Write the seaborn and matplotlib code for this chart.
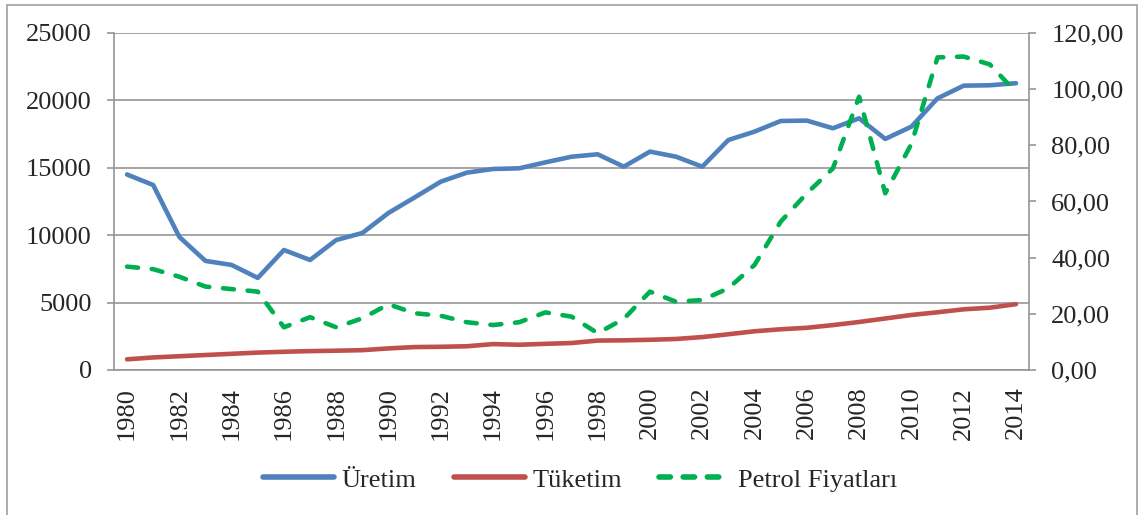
import numpy as np
import pandas as pd
import matplotlib
matplotlib.use("Agg")
import matplotlib.pyplot as plt
import seaborn as sns
from matplotlib.lines import Line2D
from matplotlib.patches import Rectangle

sns.set_style("white")
plt.rcParams['font.family'] = ['Liberation Serif', 'DejaVu Serif']

# data
years = list(range(1980, 2015))
uretim = [14500, 13720, 9870, 8090, 7790, 6830, 8900, 8160, 9640, 10160,
          11650, 12800, 13970, 14640, 14910, 14960, 15400, 15820, 16000, 15080,
          16200, 15820, 15080, 17060, 17680, 18470, 18500, 17930, 18670, 17140,
          18050, 20150, 21090, 21120, 21270]
tuketim = [790, 930, 1020, 1110, 1200, 1290, 1350, 1400, 1430, 1470,
           1600, 1700, 1720, 1760, 1920, 1870, 1940, 2000, 2180, 2200,
           2240, 2300, 2440, 2650, 2870, 3020, 3130, 3330, 3560, 3820,
           4080, 4280, 4500, 4620, 4880]
petrol = [36.8, 35.9, 33.2, 29.7, 28.8, 27.9, 15.2, 18.8, 15.2, 18.4,
          23.4, 20.2, 19.3, 17.0, 16.0, 17.0, 20.5, 19.0, 13.1, 18.2,
          27.9, 24.3, 24.9, 29.1, 37.4, 52.8, 62.9, 71.8, 97.3, 62.9,
          80.5, 111.3, 111.6, 108.8, 98.9]

df = pd.DataFrame({'Yil': years, 'Uretim': uretim, 'Tuketim': tuketim, 'Petrol': petrol})

blue = '#4F81BD'
red = '#C0504D'
green = '#00B050'
grid_c = '#969696'
fs = 19
lw = 3.3

fig = plt.figure(figsize=(11.42, 5.15), dpi=100)
ax = fig.add_axes([0.0998, 0.2816, 0.8013, 0.6544])
ax2 = ax.twinx()

sns.lineplot(data=df, x='Yil', y='Uretim', ax=ax, color=blue, linewidth=lw,
             solid_capstyle='round', solid_joinstyle='round')
sns.lineplot(data=df, x='Yil', y='Tuketim', ax=ax, color=red, linewidth=lw,
             solid_capstyle='round', solid_joinstyle='round')
sns.lineplot(data=df, x='Yil', y='Petrol', ax=ax2, color=green, linewidth=lw,
             linestyle=(0, (2.4, 3.0)), dash_capstyle='round')

ax.set_xlim(1979.5, 2014.5)
ax.set_ylim(0, 25000)
ax2.set_ylim(0, 120)
ax.set_yticks(np.arange(0, 25001, 5000))
ax2.set_yticks(np.arange(0, 121, 20))
ax2.set_yticklabels([f"{v:.2f}".replace('.', ',') for v in np.arange(0, 121, 20)])
ax.set_xticks(years[::2])
ax.set_xticklabels([str(y) for y in years[::2]], rotation=90)
ax.set_xticks(np.arange(1979.5, 2015, 1), minor=True)

ax.set_xlabel('')
ax.set_ylabel('')
ax2.set_ylabel('')
ax.grid(axis='y', color=grid_c, linewidth=1.2)
ax.set_axisbelow(True)

for a in (ax, ax2):
    for s in a.spines.values():
        s.set_visible(False)
ax.spines['left'].set_visible(True)
ax.spines['bottom'].set_visible(True)
ax2.spines['right'].set_visible(True)
for s in (ax.spines['left'], ax.spines['bottom'], ax2.spines['right']):
    s.set_color(grid_c)
    s.set_linewidth(1.2)

ax.tick_params(axis='x', which='major', length=0, labelsize=fs, pad=12)
ax.tick_params(axis='x', which='minor', length=5, color=grid_c, width=1.2)
ax.tick_params(axis='y', length=5, color=grid_c, width=1.2, labelsize=fs, left=True, pad=11)
ax2.tick_params(axis='y', length=5, color=grid_c, width=1.2, labelsize=fs, right=True, pad=11)

handles = [Line2D([], [], color=blue, linewidth=4, solid_capstyle='round'),
           Line2D([], [], color=red, linewidth=4, solid_capstyle='round'),
           Line2D([], [], color=green, linewidth=4, linestyle=(0, (2.05, 2.3)),
                  dash_capstyle='round')]
fig.legend(handles, ['Üretim', 'Tüketim', 'Petrol Fiyatları'], loc='center',
           bbox_to_anchor=(0.508, 0.068), ncol=3, frameon=False, fontsize=fs,
           handlelength=2.7, columnspacing=1.4, handletextpad=0.3)

fig.patches.append(Rectangle((0.0065, -0.01), 0.989, 1.0, transform=fig.transFigure,
                             fill=False, edgecolor='#A0A0A0', linewidth=1.2))

fig.savefig('out.png', dpi=100)
